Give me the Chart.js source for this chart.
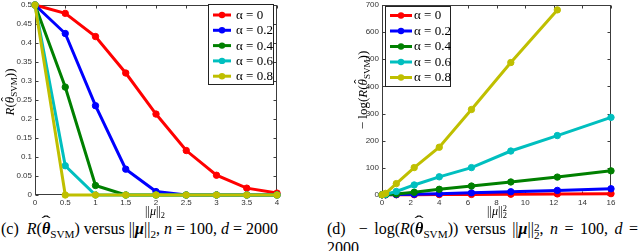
<!DOCTYPE html>
<html><head><meta charset="utf-8">
<script src="https://cdn.jsdelivr.net/npm/chart.js@4"></script>
<style>
html,body{margin:0;padding:0;background:#fff;width:640px;height:251px;overflow:hidden;position:relative;}
canvas{position:absolute;top:0;}
#c1{left:0}
#c2{left:320px}
.cap{position:absolute;top:220px;font-family:"Liberation Serif","DejaVu Serif",serif;font-size:16px;line-height:18px;color:#000;white-space:nowrap;}
.cap sub,.cap sup{font-size:0.7em;line-height:0;}
.ss{display:inline-block;font-size:0.7em;line-height:0.75em;vertical-align:-0.45em;text-align:left;}
.hat{position:relative;display:inline-block;}
.hat::after{content:"ˆ";position:absolute;left:0;right:0;text-align:center;top:-0.42em;font-weight:normal;font-style:normal;transform:scaleX(1.7);}
</style></head>
<body>
<canvas id="c1" width="320" height="220"></canvas>
<canvas id="c2" width="320" height="220"></canvas>
<div class="cap" style="left:1px">(c)&nbsp; <i>R</i>(<b><i class="hat">θ</i></b><sub>SVM</sub>) versus ||<b><i>μ</i></b>||<sub>2</sub>, <i>n</i> = 100, <i>d</i> = 2000</div>
<div class="cap" style="left:327px;word-spacing:2.5px">(d)&nbsp; − log(<i>R</i>(<b><i class="hat">θ</i></b><sub>SVM</sub>)) versus ||<b><i>μ</i></b>||<span class="ss">2<br>2</span>, <i>n</i> = 100, <i>d</i> =<br>2000</div>
<script>
// ---- data ----
const mu = [0, 0.5, 1, 1.5, 2, 2.5, 3, 3.5, 4];
const muSq = [0, 0.25, 1, 2.25, 4, 6.25, 9, 12.25, 16];
const alphaLabels = ['α = 0', 'α = 0.2', 'α = 0.4', 'α = 0.6', 'α = 0.8'];
const colors = ['#ff0000', '#0000ff', '#008000', '#00bfbf', '#bfbf00'];

// (c) risk vs ||mu||
const riskA00 = [0.5, 0.478, 0.417, 0.321, 0.213, 0.117, 0.052, 0.018, 0.005];
const riskA02 = [0.5, 0.425, 0.235, 0.068, 0.009, 0, 0, 0, 0];
const riskA04 = [0.5, 0.284, 0.025, 0, 0, 0, 0, 0, 0];
const riskA06 = [0.5, 0.077, 0, 0, 0, 0, 0, 0, 0];
const riskA08 = [0.5, 0, 0, 0, 0, 0, 0, 0, 0];

// (d) -log(risk) vs ||mu||^2
const nlogA00 = [0.69, 0.74, 0.87, 1.14, 1.55, 2.15, 2.96, 4.0, 5.0];
const nlogA02 = [0.69, 0.86, 1.45, 2.7, 4.7, 8, 12, 17, 23];
const nlogA04 = [0.69, 1.26, 3.7, 10, 21, 33, 48, 66, 89];
const nlogA06 = [0.69, 2.6, 13, 37, 67, 101, 162, 219, 286];
const nlogA08 = [0.69, 6, 42, 101, 176, 315, 488, 682, null];

const riskTicksY = [0, 0.05, 0.1, 0.15, 0.2, 0.25, 0.3, 0.35, 0.4, 0.45, 0.5];

// ---- helpers ----
function series(xs, ys) {
  const out = [];
  xs.forEach((x, i) => { if (ys[i] !== null) out.push({x: x, y: ys[i]}); });
  return out;
}
function makeDatasets(xs, arrs) {
  return arrs.map((ys, i) => ({
    label: alphaLabels[i],
    data: series(xs, ys),
    borderColor: colors[i],
    backgroundColor: colors[i],
    pointBackgroundColor: colors[i],
    pointBorderColor: colors[i],
    borderWidth: 3,
    pointRadius: 3.2,
    pointBorderWidth: 1,
    tension: 0,
    clip: false,
    order: arrs.length - i
  }));
}

function drawRich(ctx, runs, x, y, rot, size) {
  ctx.save();
  ctx.translate(x, y);
  ctx.rotate(rot);
  const fam = '"Liberation Serif","DejaVu Serif",serif';
  const fontOf = (r) => (r.i ? 'italic ' : '') + (r.b ? 'bold ' : '') + (r.s ? size * 0.7 : size) + 'px ' + fam;
  let total = 0;
  const m = runs.map(r => {
    ctx.font = fontOf(r);
    const w = ctx.measureText(r.t).width;
    if (!r.stack) total += w;
    return {r, w};
  });
  let cx = -total / 2;
  ctx.fillStyle = '#000';
  ctx.textBaseline = 'alphabetic';
  ctx.textAlign = 'left';
  m.forEach(({r, w}) => {
    ctx.font = fontOf(r);
    const dy = r.s === 'sub' ? size * 0.25 : (r.s === 'sup' ? -size * 0.38 : 0);
    const by = size * 0.35 + dy;
    ctx.fillText(r.t, cx, by);
    if (r.hat) {
      ctx.font = size + 'px ' + fam;
      const hw = ctx.measureText('ˆ').width;
      ctx.fillText('ˆ', cx + w / 2 - hw / 2 + size * 0.06, by - size * 0.3);
    }
    if (!r.stack) cx += w;
  });
  ctx.restore();
}

const framePlugin = {
  id: 'frame',
  beforeDatasetsDraw(chart) {
    const {ctx, chartArea: a} = chart;
    const xs = chart.scales.x, ys = chart.scales.y;
    ctx.save();
    ctx.strokeStyle = '#3c3c3c';
    ctx.lineWidth = 1;
    const L = Math.round(a.left) + 0.5, R = Math.round(a.right) - 0.5;
    const T = Math.round(a.top) + 0.5, B = Math.round(a.bottom) - 0.5;
    ctx.strokeRect(L, T, R - L, B - T);
    ctx.beginPath();
    xs.ticks.forEach(t => {
      const px = Math.round(xs.getPixelForValue(t.value)) + 0.5;
      ctx.moveTo(px, B); ctx.lineTo(px, B - 3);
      ctx.moveTo(px, T); ctx.lineTo(px, T + 3);
    });
    ys.ticks.forEach(t => {
      const py = Math.round(ys.getPixelForValue(t.value)) + 0.5;
      ctx.moveTo(L, py); ctx.lineTo(L + 3, py);
      ctx.moveTo(R, py); ctx.lineTo(R - 3, py);
    });
    ctx.stroke();
    ctx.restore();
  }
};

const legendPlugin = {
  id: 'boxLegend',
  afterDraw(chart, args, o) {
    const ctx = chart.ctx;
    ctx.save();
    ctx.fillStyle = '#fff';
    ctx.fillRect(o.x, o.y, o.w, o.h);
    ctx.strokeStyle = '#222';
    ctx.lineWidth = 1;
    ctx.strokeRect(o.x + 0.5, o.y + 0.5, o.w, o.h);
    chart.data.datasets.forEach((ds, i) => {
      const cy = o.y + o.first + i * o.step;
      ctx.strokeStyle = ds.borderColor;
      ctx.lineWidth = 3;
      ctx.beginPath();
      ctx.moveTo(o.x + o.l0, cy); ctx.lineTo(o.x + o.l1, cy);
      ctx.stroke();
      ctx.fillStyle = ds.borderColor;
      ctx.beginPath();
      ctx.arc(o.x + (o.l0 + o.l1) / 2, cy, 3.2, 0, Math.PI * 2);
      ctx.fill();
      ctx.fillStyle = '#000';
      ctx.font = '13px "Liberation Serif","DejaVu Serif",serif';
      ctx.textBaseline = 'middle';
      ctx.textAlign = 'left';
      ctx.fillText(ds.label, o.x + o.tx, cy + 0.5);
    });
    ctx.restore();
  }
};

const titlesPlugin = {
  id: 'mathTitles',
  afterDraw(chart, args, o) {
    (o.items || []).forEach(it => drawRich(chart.ctx, it.runs, it.x, it.y, it.rot || 0, it.size));
  }
};

Chart.register(framePlugin, legendPlugin, titlesPlugin);

function tickFont() { return {family: '"Liberation Sans", Arial, sans-serif', size: 8}; }

function makeChart(canvas, xs, arrs, cfg) {
  return new Chart(canvas, {
    type: 'line',
    data: {datasets: makeDatasets(xs, arrs)},
    options: {
      responsive: false,
      animation: false,
      events: [],
      layout: {padding: {top: 3, right: cfg.padRight, left: 0, bottom: 0}},
      plugins: {
        legend: {display: false},
        tooltip: {enabled: false},
        boxLegend: cfg.legend,
        mathTitles: {items: cfg.titles}
      },
      scales: {
        x: {
          type: 'linear', min: cfg.xmin, max: cfg.xmax,
          grid: {display: false, drawTicks: false},
          border: {display: false},
          ticks: {stepSize: cfg.xstep, padding: 3, autoSkip: false, maxRotation: 0,
                  font: tickFont(), color: '#333',
                  callback: v => String(+(+v).toFixed(2))},
          afterFit: s => { s.height = 25; s.paddingLeft = 0; s.paddingRight = 0; }
        },
        y: {
          type: 'linear', min: cfg.ymin, max: cfg.ymax,
          grid: {display: false, drawTicks: false},
          border: {display: false},
          ticks: {stepSize: cfg.ystep, padding: 3, autoSkip: false,
                  font: tickFont(), color: '#333',
                  callback: v => String(+(+v).toFixed(2))},
          afterFit: s => { s.width = cfg.yWidth; s.paddingTop = 0; s.paddingBottom = 0; }
        }
      }
    }
  });
}

makeChart(document.getElementById('c1'), mu,
  [riskA00, riskA02, riskA04, riskA06, riskA08], {
    padRight: 43, yWidth: 35,
    xmin: 0, xmax: 4, xstep: 0.5,
    ymin: riskTicksY[0], ymax: riskTicksY[riskTicksY.length - 1], ystep: 0.05,
    legend: {x: 208, y: 4, w: 65, h: 80, first: 11, step: 15.3, l0: 5, l1: 23, tx: 28},
    titles: [
      {runs: [{t: 'R', i: 1}, {t: '('}, {t: 'θ', i: 1, hat: 1}, {t: 'SVM', s: 'sub'}, {t: '))'}],
       x: 9, y: 92, rot: -Math.PI / 2, size: 13},
      {runs: [{t: '||'}, {t: 'μ', i: 1}, {t: '||'}, {t: '2', s: 'sub'}],
       x: 155, y: 211, size: 12}
    ]
  });

makeChart(document.getElementById('c2'), muSq,
  [nlogA00, nlogA02, nlogA04, nlogA06, nlogA08], {
    padRight: 29, yWidth: 62,
    xmin: 0, xmax: 16, xstep: 2,
    ymin: 0, ymax: 700, ystep: 100,
    legend: {x: 65, y: 6, w: 65, h: 80, first: 9.5, step: 15.5, l0: 5, l1: 27, tx: 29},
    titles: [
      {runs: [{t: '− log('}, {t: 'R', i: 1}, {t: '('}, {t: 'θ', i: 1, hat: 1}, {t: 'SVM', s: 'sub'}, {t: '))'}],
       x: 42, y: 90, rot: -Math.PI / 2, size: 13},
      {runs: [{t: '||'}, {t: 'μ', i: 1}, {t: '||'}, {t: '2', s: 'sup', stack: 1}, {t: '2', s: 'sub'}],
       x: 177, y: 211, size: 12}
    ]
  });
</script>
</body></html>
